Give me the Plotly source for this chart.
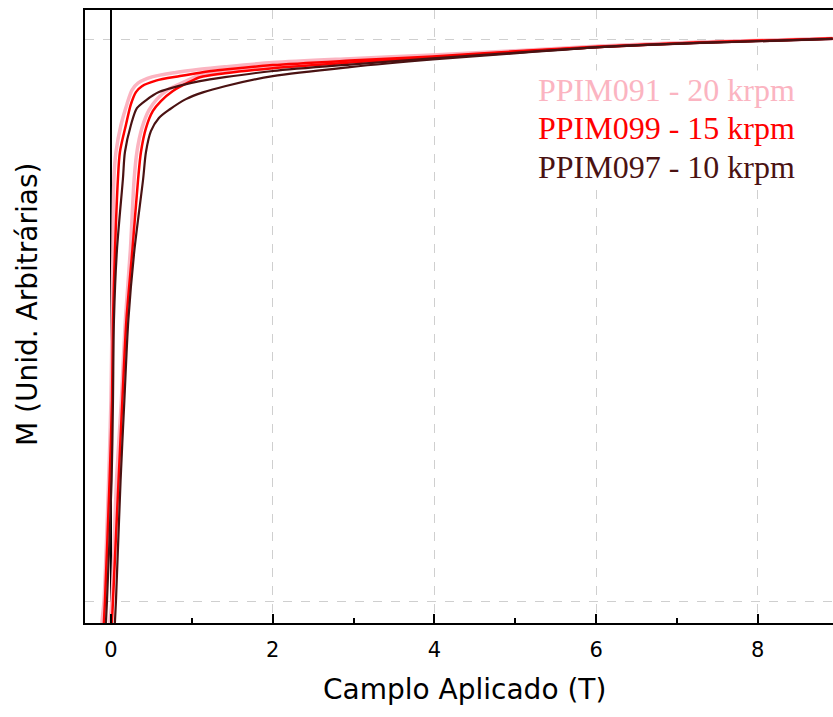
import plotly.graph_objects as go

# ---- digitised data (field in T, magnetisation in arbitrary units) ----
# descending (upper) branches
up_20_H = [-0.124, -0.111, -0.086, -0.029, 0.000, 0.013, 0.025, 0.037, 0.062, 0.124, 0.198, 0.260, 0.334, 0.507, 0.803, 1.100, 1.409, 2.002, 2.954, 3.980, 5.056, 6.044, 7.280, 8.925]
up_20_M = [-1.200, -1.073, -0.996, -0.568, -0.283, 0.002, 0.251, 0.504, 0.600, 0.696, 0.770, 0.820, 0.845, 0.867, 0.883, 0.894, 0.903, 0.918, 0.932, 0.945, 0.961, 0.977, 0.991, 1.004]
up_15_H = [-0.099, -0.087, -0.074, -0.017, 0.013, 0.025, 0.050, 0.086, 0.111, 0.185, 0.247, 0.309, 0.383, 0.556, 0.853, 1.100, 1.409, 2.002, 2.954, 3.980, 5.056, 6.044, 7.280, 8.925]
up_15_M = [-1.200, -1.073, -0.996, -0.568, -0.283, 0.002, 0.251, 0.504, 0.600, 0.696, 0.770, 0.813, 0.834, 0.854, 0.870, 0.882, 0.893, 0.909, 0.925, 0.940, 0.959, 0.975, 0.989, 1.004]
up_10_H = [-0.074, -0.062, -0.049, 0.008, 0.025, 0.037, 0.074, 0.148, 0.173, 0.247, 0.321, 0.433, 0.593, 0.853, 1.100, 1.409, 2.002, 2.954, 3.980, 5.056, 6.044, 7.280, 8.925]
up_10_M = [-1.200, -1.073, -0.996, -0.568, -0.283, 0.002, 0.251, 0.504, 0.600, 0.696, 0.756, 0.784, 0.813, 0.836, 0.852, 0.866, 0.888, 0.911, 0.933, 0.954, 0.973, 0.988, 1.002]
# ascending (lower) branches
lo_20_H = [-0.025, -0.012, 0.012, 0.069, 0.129, 0.178, 0.240, 0.287, 0.321, 0.383, 0.470, 0.569, 0.717, 0.927, 1.100, 1.409, 2.002, 2.954, 3.980, 5.056, 6.044, 7.280, 8.925]
lo_20_M = [-1.200, -1.073, -0.996, -0.568, -0.283, 0.002, 0.251, 0.504, 0.600, 0.685, 0.749, 0.788, 0.824, 0.852, 0.874, 0.886, 0.902, 0.922, 0.939, 0.957, 0.975, 0.989, 1.004]
lo_15_H = [0.000, 0.012, 0.025, 0.094, 0.141, 0.191, 0.265, 0.336, 0.371, 0.433, 0.519, 0.618, 0.766, 0.977, 1.100, 1.409, 2.002, 2.954, 3.980, 5.056, 6.044, 7.280, 8.925]
lo_15_M = [-1.200, -1.073, -0.996, -0.568, -0.283, 0.002, 0.251, 0.504, 0.600, 0.685, 0.746, 0.781, 0.817, 0.850, 0.866, 0.880, 0.898, 0.918, 0.937, 0.957, 0.973, 0.989, 1.004]
lo_10_H = [0.037, 0.049, 0.062, 0.119, 0.166, 0.215, 0.290, 0.398, 0.433, 0.494, 0.593, 0.729, 0.927, 1.137, 1.409, 2.002, 2.954, 3.980, 5.056, 6.044, 7.280, 8.925]
lo_10_M = [-1.200, -1.073, -0.996, -0.568, -0.283, 0.002, 0.251, 0.504, 0.600, 0.674, 0.721, 0.752, 0.788, 0.812, 0.834, 0.870, 0.902, 0.929, 0.952, 0.973, 0.988, 1.002]

labels = ["PPIM091 - 20 krpm", "PPIM099 - 15 krpm", "PPIM097 - 10 krpm"]
label_M = [0.822, 0.686, 0.547]
colors = ["#FBB4C1", "#FF0000", "#4A1212"]
x_ticks = [0, 2, 4, 6, 8]

series = [
    (up_20_H, up_20_M, 0, 3.5), (lo_20_H, lo_20_M, 0, 3.5),
    (up_15_H, up_15_M, 1, 2.5), (lo_15_H, lo_15_M, 1, 2.5),
    (up_10_H, up_10_M, 2, 2.2), (lo_10_H, lo_10_M, 2, 2.2),
]

fig = go.Figure()
for H, M, k, w in series:
    fig.add_trace(go.Scatter(x=H, y=M, mode="lines",
                             line=dict(color=colors[k], width=w, shape="spline", smoothing=0.8),
                             showlegend=False, hoverinfo="skip"))

for lab, col, ym in zip(labels, colors, label_M):
    fig.add_annotation(x=5.26, y=ym, xref="x", yref="y", text=lab, showarrow=False,
                       xanchor="left", yanchor="middle", bgcolor="white",
                       font=dict(family="Liberation Serif", size=32, color=col))

# axis titles (placed as annotations to match the reference position)
fig.add_annotation(x=0.508, y=-0.109, xref="paper", yref="paper", text="Camplo Aplicado (T)",
                   showarrow=False, xanchor="center", yanchor="middle",
                   font=dict(family="DejaVu Sans", size=28, color="black"))
fig.add_annotation(x=-0.076, y=0.519, xref="paper", yref="paper", text="M (Unid. Arbitrárias)",
                   showarrow=False, xanchor="center", yanchor="middle", textangle=-90,
                   font=dict(family="DejaVu Sans", size=28, color="black"))

fig.update_layout(
    width=833, height=717, margin=dict(l=85, r=0, t=10, b=94),
    paper_bgcolor="white", plot_bgcolor="white",
    font=dict(family="DejaVu Sans", color="black"),
)
fig.update_xaxes(
    range=[-0.321, 8.93], tickvals=x_ticks, ticktext=[str(t) for t in x_ticks],
    ticks="inside", ticklen=9, tickwidth=2, tickcolor="black", ticklabelstandoff=7,
    minor=dict(dtick=1, tick0=1, ticks="inside", ticklen=5, tickwidth=2, tickcolor="black", showgrid=False),
    showline=True, linecolor="black", linewidth=2, mirror=True,
    showgrid=True, gridcolor="#cfcfcf", griddash="dash", gridwidth=1,
    zeroline=True, zerolinecolor="black", zerolinewidth=1.5,
    tickfont=dict(size=21, family="DejaVu Sans"),
)
fig.update_yaxes(
    range=[-1.075, 1.105], tickvals=[-1, 1], showticklabels=False, ticks="",
    showline=True, linecolor="black", linewidth=2,
    showgrid=True, gridcolor="#cfcfcf", griddash="dash", gridwidth=1, zeroline=False,
)
fig.write_html("out.html", config={"displayModeBar": False},
               post_script="document.body.style.margin='0';")
